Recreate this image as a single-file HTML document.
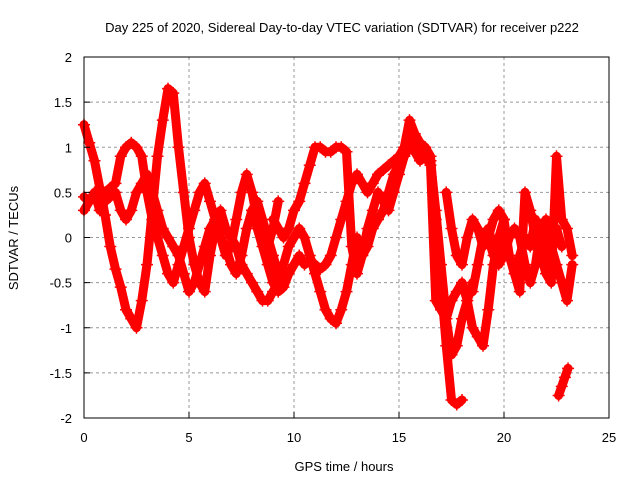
<!DOCTYPE html>
<html><head><meta charset="utf-8"><style>
body{margin:0;background:#fff}
svg{display:block;font-family:"Liberation Sans",sans-serif;font-size:13px}
</style></head><body>
<svg id="chart" width="640" height="480">
<text x="342" y="32" text-anchor="middle">Day 225 of 2020, Sidereal Day-to-day VTEC variation (SDTVAR) for receiver p222</text>
<g id="grid"></g>
<g id="series"></g>
<rect x="84" y="57" width="525" height="361" fill="none" stroke="#000" stroke-width="1"/>
<g id="ticks"></g>
<text x="344" y="471" text-anchor="middle">GPS time / hours</text>
<text transform="translate(18,238) rotate(-90)" text-anchor="middle">SDTVAR / TECUs</text>
</svg>
<script>
const xTicks=[0,5,10,15,20,25];
const yTicks=[2,1.5,1,0.5,0,-0.5,-1,-1.5,-2];
const yTickLabels=["2","1.5","1","0.5","0","-0.5","-1","-1.5","-2"];
const trackStarts=[0,0,0,8,9,13,17.25,18.5,22.6,19];
const trackSteps=[0.25,0.25,0.25,0.25,0.25,0.25,0.25,0.25,0.15,0.25];
const track1=[1.25,1.05,0.85,0.55,0.25,-0.1,-0.35,-0.55,-0.8,-0.9,-1.0,-0.7,-0.3,0.3,0.9,1.3,1.65,1.6,1.0,0.5,0.0,-0.3,-0.5,-0.6,-0.2,0.1,0.0,-0.1,-0.3,-0.4,-0.2,0.1,0.3,0.4,0.2,0.0,-0.2,-0.4];
const track2=[0.45,0.4,0.45,0.5,0.5,0.55,0.6,0.9,1.0,1.05,1.0,0.9,0.5,0.2,0.0,-0.2,-0.4,-0.5,-0.3,-0.1,0.1,0.3,0.5,0.6,0.4,0.2,0.0,-0.2,-0.1,0.2,0.5,0.7,0.5,0.2,0.0,-0.1,0.1,0.4];
const track3=[0.3,0.4,0.5,0.3,0.4,0.45,0.5,0.3,0.2,0.3,0.5,0.6,0.7,0.5,0.3,0.1,0.0,-0.1,-0.2,-0.4,-0.6,-0.5,-0.3,-0.1,0.1,0.2,0.3,0.1,0.0,-0.1,-0.3,-0.4,-0.5,-0.6,-0.7,-0.7,-0.6,-0.5,-0.3,-0.1,0.0,0.1,0.0,-0.2,-0.4,-0.6,-0.8,-0.9,-0.95,-0.8,-0.6,-0.3,0.0];
const track4=[0.3,0.1,-0.1,-0.3,-0.5,-0.6,-0.55,-0.4,-0.3,-0.2,-0.3,-0.25,-0.3,-0.35,-0.3,-0.2,0.0,0.2,0.4,0.6,0.7,0.6,0.5,0.6,0.7,0.75,0.8,0.85,0.9,1.0,1.3,1.15,1.05,1.0,0.9,0.2,-0.5,-1.2,-1.8,-1.85,-1.8];
const track5=[0.2,0.1,0.0,0.1,0.3,0.4,0.6,0.8,1.0,1.0,0.95,0.95,1.0,1.0,0.95,-0.1,-0.4,-0.2,0.1,0.3,0.5,0.4,0.3,0.5,0.7,0.9,1.1,1.0,1.0,0.95,0.85,0.3,-0.3,-0.9,-1.3,-1.2,-0.9,-0.7,-0.5];
const track6=[-0.3,-0.2,-0.1,0.1,0.2,0.3,0.5,0.7,0.8,0.9,1.0,0.95,0.85,0.9,0.8,-0.7,-0.8,-0.9,-0.7,-0.6,-0.5,-0.7,-1.0,-1.1,-1.2,-0.8,-0.3,0.0,0.2];
const track7=[0.5,0.1,-0.2,-0.3,0.0,0.2,0.1,-0.1,0.0,0.2,0.3,0.2,-0.2,-0.4,-0.6,0.5,0.3,0.0,-0.2,-0.4,-0.5,0.9,0.2,0.1,-0.2];
const track8=[-0.6,-0.3,0.0,0.1,-0.1,-0.3,-0.2,0.0,0.1,0.0,-0.3,-0.5,-0.3,0.1,0.2,-0.1,-0.3,-0.5,-0.7,-0.3];
const track9=[-1.75,-1.65,-1.55,-1.45];
const track10=[-0.1,0.0,-0.2,-0.1,0.1,-0.2,-0.4,-0.2,0.0,-0.1,0.2,0.0,-0.3,-0.1,0.1,-0.1];
const tracks=[track1,track2,track3,track4,track5,track6,track7,track8,track9,track10];

const NS="http://www.w3.org/2000/svg";
const X=t=>84+t*21;
const Y=v=>237.5-v*90.25;
function mk(tag,attrs,parent){const e=document.createElementNS(NS,tag);for(const k in attrs)e.setAttribute(k,attrs[k]);parent.appendChild(e);return e;}
const grid=document.getElementById('grid'),ticks=document.getElementById('ticks'),series=document.getElementById('series');
xTicks.forEach(t=>{
  if(t>0&&t<25){const g=mk('line',{x1:X(t),x2:X(t),y1:57,y2:418,stroke:'#999','stroke-dasharray':'3,3'},grid);
  
  }
  const tk=mk('line',{x1:X(t),x2:X(t),y1:418,y2:412,stroke:'#000'},ticks);
  
  
  const l=mk('text',{x:X(t),y:442,'text-anchor':'middle'},ticks);l.textContent=t;
  
  
});
yTicks.forEach((v,i)=>{
  if(v<2&&v>-2){const g=mk('line',{x1:84,x2:609,y1:Y(v),y2:Y(v),stroke:'#999','stroke-dasharray':'3,3'},grid);
  
  }
  const tk=mk('line',{x1:84,x2:90,y1:Y(v),y2:Y(v),stroke:'#000'},ticks);
  
  
  const l=mk('text',{x:72,y:Y(v)+5,'text-anchor':'end'},ticks);l.textContent=yTickLabels[i];
  
  
});
tracks.forEach((vals,k)=>{
  const pts=vals.map((v,i)=>[X(trackStarts[k]+i*trackSteps[k]),Y(v)]);
  const pl=mk('polyline',{points:pts.map(p=>p.join(',')).join(' '),fill:'none',stroke:'#f00','stroke-width':9,'stroke-linejoin':'round','stroke-linecap':'round'},series);
  
  
  pts.forEach(p=>{
    const m=mk('path',{d:`M${p[0]-6},${p[1]}h12M${p[0]},${p[1]-6}v12`,stroke:'#f00','stroke-width':1.5},series);
    
    
  });
});
</script>
</body></html>
